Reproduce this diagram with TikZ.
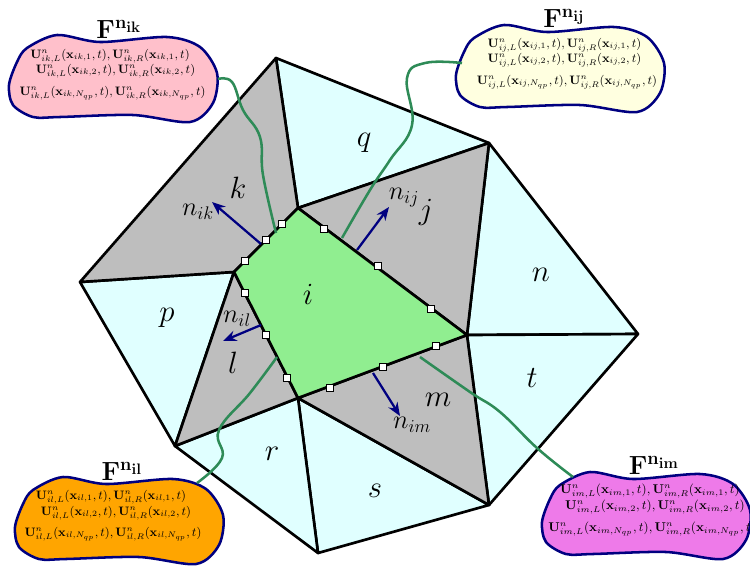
\documentclass[tikz,border=0pt]{standalone}
\usepackage{amsmath,amssymb}
\usepackage{tikz}
\usetikzlibrary{arrows.meta}
\usepackage{xcolor}
\definecolor{meshgray}{HTML}{BEBEBE}
\definecolor{meshcyan}{HTML}{E0FFFF}
\definecolor{meshgreen}{HTML}{90EE90}
\definecolor{fluxnavy}{HTML}{000080}
\definecolor{fluxlink}{HTML}{2E8B57}
\definecolor{fluxpink}{HTML}{FFC0CB}
\definecolor{fluxyellow}{HTML}{FFFFE0}
\definecolor{fluxorange}{HTML}{FFA500}
\definecolor{fluxviolet}{HTML}{EE7AE9}
\newcommand{\fluxblob}[2]{%
  \filldraw[blobline,fill=#1,shift={#2}] plot[smooth cycle] coordinates {
    (27,48) (57,35) (100,42) (167,37) (200,47) (217,73) (213,103) (190,122)
    (133,115) (60,117) (33,117) (13,105) (9,85) (17,62)};}
\newcommand{\fluxline}[2]{$\mathbf{U}^n_{#1,L}(\mathbf{x}_{#1,#2},t),\mathbf{U}^n_{#1,R}(\mathbf{x}_{#1,#2},t)$}
\begin{document}
\begin{tikzpicture}[
  x=0.75pt,y=-0.75pt,
  graycell/.style={draw=black,fill=meshgray,line width=2pt,line join=round},
  cyancell/.style={draw=black,fill=meshcyan,line width=2pt,line join=round},
  owncell/.style={draw=black,fill=meshgreen,line width=2pt,line join=round},
  blobline/.style={draw=fluxnavy,line width=1.9pt},
  linkline/.style={draw=fluxlink,line width=1.9pt},
  normalarrow/.style={-{Stealth[length=10pt,width=8pt]},draw=fluxnavy,fill=fluxnavy,line width=1.7pt},
  facepoint/.style={draw=black,fill=white,line width=0.8pt,minimum size=5pt,inner sep=0pt},
  celllabel/.style={font=\Huge,scale=0.93},
  normallabel/.style={font=\huge,scale=0.95},
  linelabel/.style={font=\small,scale=1.02,inner sep=0pt},
  widelabel/.style={font=\small,scale=1.06,inner sep=0pt},
  fluxtitle/.style={font=\huge,scale=0.95,inner sep=0pt}
]
  \useasboundingbox (0,0) rectangle (750,565);

  \coordinate (vtop) at (298,208);
  \coordinate (vright) at (467,335);
  \coordinate (vbottom) at (298,398);
  \coordinate (vleft) at (234,272);
  \coordinate (outa) at (276,58);
  \coordinate (outb) at (489,143);
  \coordinate (outc) at (638,334);
  \coordinate (outd) at (489,505);
  \coordinate (oute) at (318,553);
  \coordinate (outf) at (175,446);
  \coordinate (outg) at (80,282);

  \filldraw[cyancell] (outa) -- (outb) -- (vtop) -- cycle;
  \filldraw[cyancell] (outb) -- (outc) -- (vright) -- cycle;
  \filldraw[cyancell] (outc) -- (outd) -- (vright) -- cycle;
  \filldraw[cyancell] (outd) -- (oute) -- (vbottom) -- cycle;
  \filldraw[cyancell] (oute) -- (outf) -- (vbottom) -- cycle;
  \filldraw[cyancell] (outf) -- (outg) -- (vleft) -- cycle;
  \filldraw[graycell] (outg) -- (outa) -- (vtop) -- (vleft) -- cycle;
  \filldraw[graycell] (vtop) -- (outb) -- (vright) -- cycle;
  \filldraw[graycell] (vright) -- (outd) -- (vbottom) -- cycle;
  \filldraw[graycell] (vbottom) -- (outf) -- (vleft) -- cycle;
  \filldraw[owncell] (vtop) -- (vright) -- (vbottom) -- (vleft) -- cycle;

  \node[celllabel] (lblq) at (364,143) {$q$};
  \node[celllabel] (lblk) at (238,188) {$k$};
  \node[celllabel] (lblj) at (426,212) {$j$};
  \node[celllabel] (lbln) at (541,275) {$n$};
  \node[celllabel] (lblp) at (167,318) {$p$};
  \node[celllabel] (lbli) at (308,294) {$i$};
  \node[celllabel] (lbll) at (233,363) {$l$};
  \node[celllabel] (lblt) at (532,378) {$t$};
  \node[celllabel] (lblm) at (438,400) {$m$};
  \node[celllabel] (lblr) at (272,454) {$r$};
  \node[celllabel] (lbls) at (375,491) {$s$};

  \node[normallabel] (lblnik) at (198,212) {$n_{ik}$};
  \node[normallabel] (lblnij) at (404,198) {$n_{ij}$};
  \node[normallabel] (lblnil) at (237,319) {$n_{il}$};
  \node[normallabel] (lblnim) at (412,425) {$n_{im}$};

  \coordinate (footik) at (261,244);
  \coordinate (tipik) at (212,202);
  \coordinate (footij) at (357,250);
  \coordinate (tipij) at (389,207);
  \coordinate (footil) at (261,325);
  \coordinate (tipil) at (223,341);
  \coordinate (footim) at (373,373);
  \coordinate (tipim) at (400,416);
  \draw[normalarrow] (footik) -- (tipik);
  \draw[normalarrow] (footij) -- (tipij);
  \draw[normalarrow] (footil) -- (tipil);
  \draw[normalarrow] (footim) -- (tipim);

  \fluxblob{fluxpink}{(0,0)}
  \fluxblob{fluxyellow}{(447,-10)}
  \fluxblob{fluxorange}{(6,442)}
  \fluxblob{fluxviolet}{(533,437)}

  \node[fluxtitle] (titleik) at (119,29) {$\mathbf{F^{n_{ik}}}$};
  \node[linelabel] (ikone) at (110,56) {\fluxline{ik}{1}};
  \node[linelabel] (iktwo) at (115.5,71) {\fluxline{ik}{2}};
  \node[linelabel] (ikqp) at (112.5,93) {\fluxline{ik}{N_{qp}}};

  \node[fluxtitle] (titleij) at (564,18) {$\mathbf{F^{n_{ij}}}$};
  \node[linelabel] (ijone) at (564.5,45) {\fluxline{ij}{1}};
  \node[linelabel] (ijtwo) at (564.5,60) {\fluxline{ij}{2}};
  \node[linelabel] (ijqp) at (567,82) {\fluxline{ij}{N_{qp}}};

  \node[fluxtitle] (titleil) at (122,471) {$\mathbf{F^{n_{il}}}$};
  \node[linelabel] (ilone) at (111,497) {\fluxline{il}{1}};
  \node[linelabel] (iltwo) at (116,513) {\fluxline{il}{2}};
  \node[linelabel] (ilqp) at (113,534) {\fluxline{il}{N_{qp}}};

  \node[fluxtitle] (titleim) at (654,465) {$\mathbf{F^{n_{im}}}$};
  \node[widelabel] (imone) at (650,491) {\fluxline{im}{1}};
  \node[widelabel] (imtwo) at (655,507) {\fluxline{im}{2}};
  \node[widelabel] (imqp) at (652,529) {\fluxline{im}{N_{qp}}};

  \coordinate (portik) at (218,79);
  \coordinate (edgeik) at (276,233);
  \coordinate (portij) at (462,63);
  \coordinate (edgeij) at (342,238);
  \coordinate (portil) at (197,483);
  \coordinate (edgeil) at (277,357);
  \coordinate (portim) at (573,477);
  \coordinate (edgeim) at (420,357);
  \draw[linkline] plot[smooth,tension=0.7] coordinates {(portik) (232,82) (243,110)
    (260,137) (263,175) (edgeik)};
  \draw[linkline] plot[smooth,tension=0.7] coordinates {(portij) (425,63) (407,78)
    (412,125) (390,160) (370,190) (edgeij)};
  \draw[linkline] plot[smooth,tension=0.7] coordinates {(portil) (222,458) (219,430)
    (250,393) (edgeil)};
  \draw[linkline] plot[smooth,tension=0.7] coordinates {(portim) (537,448) (500,412)
    (470,392) (edgeim)};

  \foreach \fname/\fx/\fy in {fa/282/224,fb/266/240,fc/245/261,fd/245/293,
    fe/266/335,ff/287/378,fg/330/388,fh/383/367,fi/436/346,fj/431/309,
    fk/378/266,fl/324/229}
    \node[facepoint] (\fname) at (\fx,\fy) {};
\end{tikzpicture}
\end{document}
